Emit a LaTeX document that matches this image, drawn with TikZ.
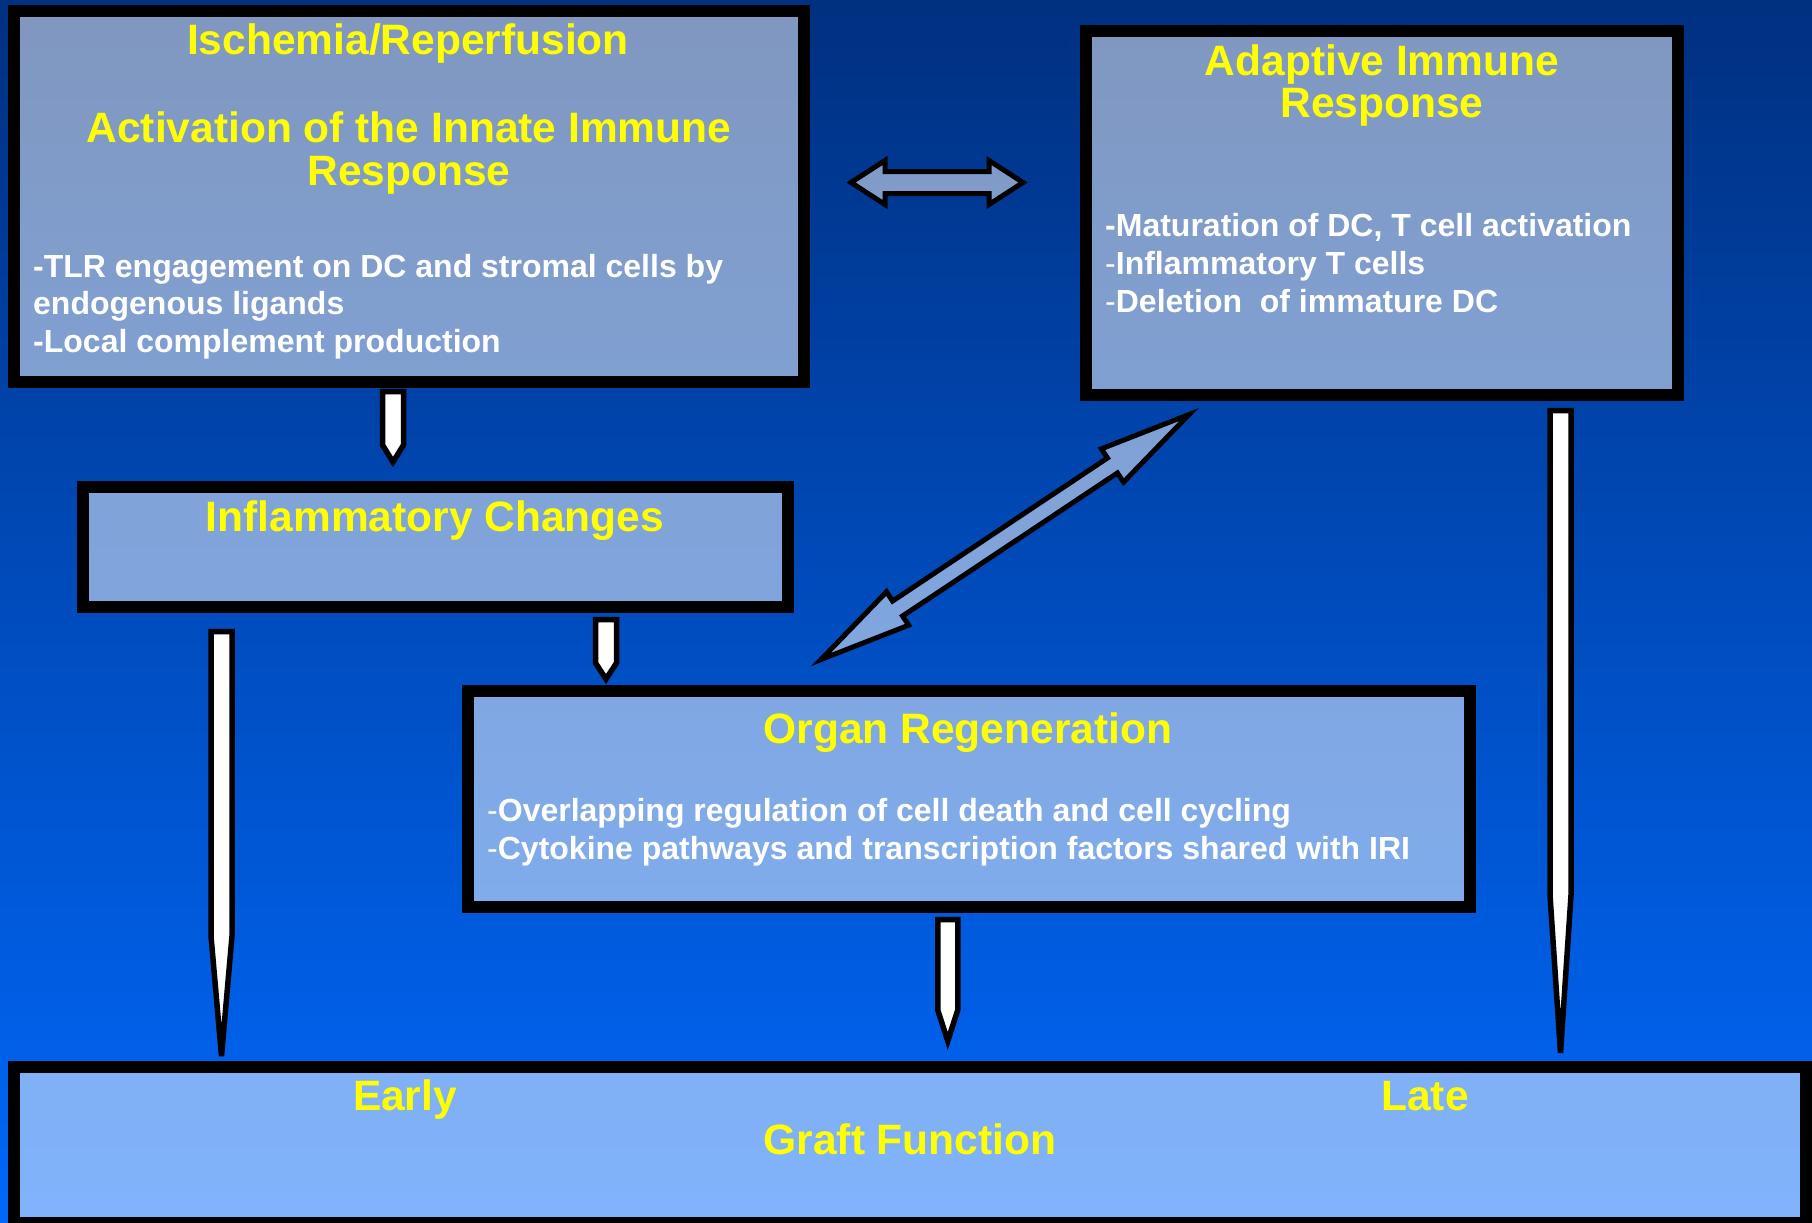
\documentclass[tikz,border=0pt]{standalone}
\usepackage{fontspec}
\setmainfont{Liberation Sans}
\usetikzlibrary{calc}
\definecolor{bgtop}{RGB}{0,48,128}
\definecolor{bgbot}{RGB}{0,104,250}
\definecolor{ttl}{RGB}{255,255,0}
\newcommand\vblockarrow[4]{%
  \path[whitearrow] ($(#1)+(-#3,0)$) -- ($(#1)+(#3,0)$) -- ($(#2)+(#3,-#4)$) -- (#2) -- ($(#2)+(-#3,-#4)$) -- cycle;}
\newcommand\dblblockarrow[6]{% #1 P0, #2 P1, #3 head length, #4 head half, #5 shaft half, #6 prefix
  \coordinate (#6h1) at ($(#2)!#3!(#1)$);
  \coordinate (#6h0) at ($(#1)!#3!(#2)$);
  \path[bluearrow] (#2) -- ($(#6h1)!#4!90:(#2)$) -- ($(#6h1)!#5!90:(#2)$) -- ($(#6h0)!#5!-90:(#1)$)
    -- ($(#6h0)!#4!-90:(#1)$) -- (#1) -- ($(#6h0)!#4!90:(#1)$) -- ($(#6h0)!#5!90:(#1)$)
    -- ($(#6h1)!#5!-90:(#2)$) -- ($(#6h1)!#4!-90:(#2)$) -- cycle;}
\begin{document}
\begin{tikzpicture}[x=1pt,y=-1pt,
  box/.style={draw=black, line width=12pt, fill=white, fill opacity=0.5, inner sep=0pt, outer sep=0pt},
  title/.style={text=ttl, font=\bfseries\fontsize{42.5}{43}\selectfont, inner sep=0pt, anchor=base},
  bullet/.style={text=white, font=\bfseries\fontsize{32}{38}\selectfont, inner sep=0pt, anchor=base west},
  whitearrow/.style={draw=black, line width=5.5pt, fill=white, line join=miter},
  bluearrow/.style={draw=black, line width=5pt, fill=white, fill opacity=0.5, line join=miter}]
\useasboundingbox (0,0) rectangle (1812,1223);
\shade[top color=bgtop, bottom color=bgbot] (0,0) rectangle (1812,1223);

% boxes
\node[box, minimum width=790pt, minimum height=371pt] (b1) at (409,196.5) {};
\node[box, minimum width=592.5pt, minimum height=364pt] (b2) at (1381.75,213) {};
\node[box, minimum width=704.5pt, minimum height=120pt] (b3) at (435.25,547) {};
\node[box, minimum width=1002pt, minimum height=216pt] (b4) at (969,799) {};
\node[box, minimum width=1792pt, minimum height=156pt] (b5) at (910,1145) {};

% vertical block arrows
\coordinate (a1s) at (393,391.5);   \coordinate (a1e) at (393,462);
\coordinate (a2s) at (606,619.5);   \coordinate (a2e) at (606,679);
\coordinate (a3s) at (947.75,919.5); \coordinate (a3e) at (947.75,1041);
\coordinate (a4s) at (221.5,631.5); \coordinate (a4e) at (221.5,1056);
\coordinate (a5s) at (1560.5,410.5); \coordinate (a5e) at (1560.5,1053);
\vblockarrow{a1s}{a1e}{10.5}{17}
\vblockarrow{a2s}{a2e}{10.5}{16}
\vblockarrow{a3s}{a3e}{10}{31}
\vblockarrow{a4s}{a4e}{10.5}{120}
\vblockarrow{a5s}{a5e}{10.5}{158}

% double arrows
\coordinate (hl) at (851,182.5); \coordinate (hr) at (1023,182.5);
\dblblockarrow{hl}{hr}{34pt}{22pt}{11pt}{H}
\coordinate (dl) at (821,659.5); \coordinate (dr) at (1189,414.5);
\dblblockarrow{dl}{dr}{92pt}{20pt}{9pt}{D}

% texts
\node[title] (t1) at (408,55) {Ischemia/Reperfusion};
\node[title] (t2) at (409,142) {Activation of the Innate Immune};
\node[title] (t3) at (409,185) {Response};
\node[bullet] (t4) at (33,277) {-TLR engagement on DC and stromal cells by};
\node[bullet] (t5) at (33,314) {endogenous ligands};
\node[bullet] (t6) at (33,352) {-Local complement production};

\node[title] (t7) at (1382,75) {Adaptive Immune};
\node[title] (t8) at (1382,117) {Response};
\node[bullet] (t9) at (1105,236) {-Maturation of DC, T cell activation};
\node[bullet] (t10) at (1105,274) {{\mdseries -}Inflammatory T cells};
\node[bullet] (t11) at (1105,312) {{\mdseries -}Deletion\ \ of immature DC};

\node[title] (t12) at (435,531) {Inflammatory Changes};

\node[title] (t13) at (968,743) {Organ Regeneration};
\node[bullet] (t14) at (487,821) {{\mdseries -}Overlapping regulation of cell death and cell cycling};
\node[bullet] (t15) at (487,859) {{\mdseries -}Cytokine pathways and transcription factors shared with IRI};

\node[title] (t16) at (405,1110) {Early};
\node[title] (t17) at (1425,1110) {Late};
\node[title] (t18) at (910,1154) {Graft Function};
\end{tikzpicture}
\end{document}
